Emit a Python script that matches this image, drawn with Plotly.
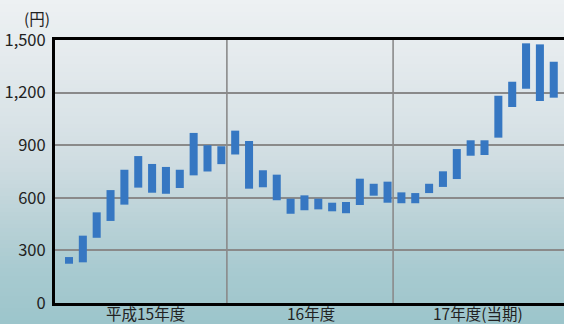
import plotly.graph_objects as go

# Monthly price range (low / high, yen), FY15 April through FY17 March
months = list(range(36))
high = [262, 384, 517, 644, 760, 838, 793, 776, 760, 970, 900, 894,
        983, 924, 757, 732, 595, 614, 595, 572, 576, 709, 680, 692,
        631, 627, 680, 751, 878, 928, 928, 1182, 1262, 1481, 1475, 1376]
low = [224, 232, 372, 468, 561, 658, 629, 623, 656, 728, 750, 792,
       847, 652, 660, 586, 509, 529, 534, 523, 512, 559, 612, 572,
       569, 569, 627, 662, 707, 840, 844, 943, 1118, 1222, 1152, 1171]

year_labels = ["平成15年度", "16年度", "17年度(当期)"]
year_centers = [5.5, 17.5, 29.5]
year_bounds = [11.4, 23.4]
y_ticks = [0, 300, 600, 900, 1200, 1500]
y_ticktext = ["0", "300", "600", "900", "1,200", "1,500"]

W, H = 564, 324
FONT = "Noto Sans CJK JP, Noto Sans, sans-serif"

fig = go.Figure()
fig.add_trace(go.Bar(
    x=months,
    y=[h - l for h, l in zip(high, low)],
    base=low,
    width=0.58,
    marker=dict(color="#3677c2", line=dict(width=0)),
    hoverinfo="skip",
))

# Soft vertical background gradient (light grey-blue to teal)
stops = [(0, (237, 241, 243)), (60, (228, 234, 237)), (120, (217, 227, 231)),
         (170, (205, 219, 224)), (220, (186, 210, 215)), (270, (168, 202, 208)),
         (324, (156, 197, 203))]


def color_at(py):
    for (y0, c0), (y1, c1) in zip(stops[:-1], stops[1:]):
        if y0 <= py <= y1:
            t = (py - y0) / (y1 - y0)
            return "rgb(%d,%d,%d)" % tuple(round(a + (b - a) * t) for a, b in zip(c0, c1))
    return "rgb(%d,%d,%d)" % stops[-1][1]


margin = dict(l=55, r=0, t=40, b=21)
pw = W - margin["l"] - margin["r"]
ph = H - margin["t"] - margin["b"]
shapes = []
step = 4
for py in range(0, H, step):
    y_top = 1 - (py - margin["t"]) / ph
    y_bot = 1 - (py + step - margin["t"]) / ph
    shapes.append(dict(type="rect", xref="paper", yref="paper",
                       x0=-margin["l"] / pw, x1=1.01, y0=y_bot, y1=y_top,
                       fillcolor=color_at(py + step / 2), line=dict(width=0),
                       layer="below"))

# Fiscal-year separators
for xb in year_bounds:
    shapes.append(dict(type="line", xref="x", yref="y", x0=xb, x1=xb, y0=0, y1=1500,
                       line=dict(color="#8a8a8a", width=1.6), layer="below"))

# Fiscal-year labels under the axis
annotations = [dict(text=lab, xref="x", yref="paper", x=xc, y=-9.6 / ph,
                    xanchor="center", yanchor="middle", showarrow=False,
                    font=dict(size=15.5, family=FONT, color="#222222"))
               for lab, xc in zip(year_labels, year_centers)]
annotations.append(dict(text="(円)", xref="paper", yref="paper",
                        x=(22 - margin["l"]) / pw, y=1 + 22 / ph,
                        xanchor="left", yanchor="middle", showarrow=False,
                        font=dict(size=15.5, family=FONT, color="#222222")))

fig.update_layout(
    width=W, height=H,
    margin=margin,
    paper_bgcolor="rgb(220,230,234)",
    plot_bgcolor="rgba(0,0,0,0)",
    showlegend=False,
    shapes=shapes,
    annotations=annotations,
    font=dict(family=FONT, color="#222222", size=15),
    xaxis=dict(
        range=[-1.01, 35.74],
        showticklabels=False, ticks="", showgrid=False, zeroline=False,
        automargin=False,
        showline=True, linecolor="#000000", linewidth=3, mirror=True,
    ),
    yaxis=dict(
        range=[0, 1500],
        tickmode="array", tickvals=y_ticks, ticktext=y_ticktext,
        ticks="", showgrid=True, gridcolor="#8a8a8a", gridwidth=1.6,
        zeroline=False, automargin=False,
        showline=True, linecolor="#000000", linewidth=3,
        tickfont=dict(size=16.5, family=FONT, color="#222222"),
        ticklabelstandoff=3,
    ),
)

fig.write_html("out.html")
